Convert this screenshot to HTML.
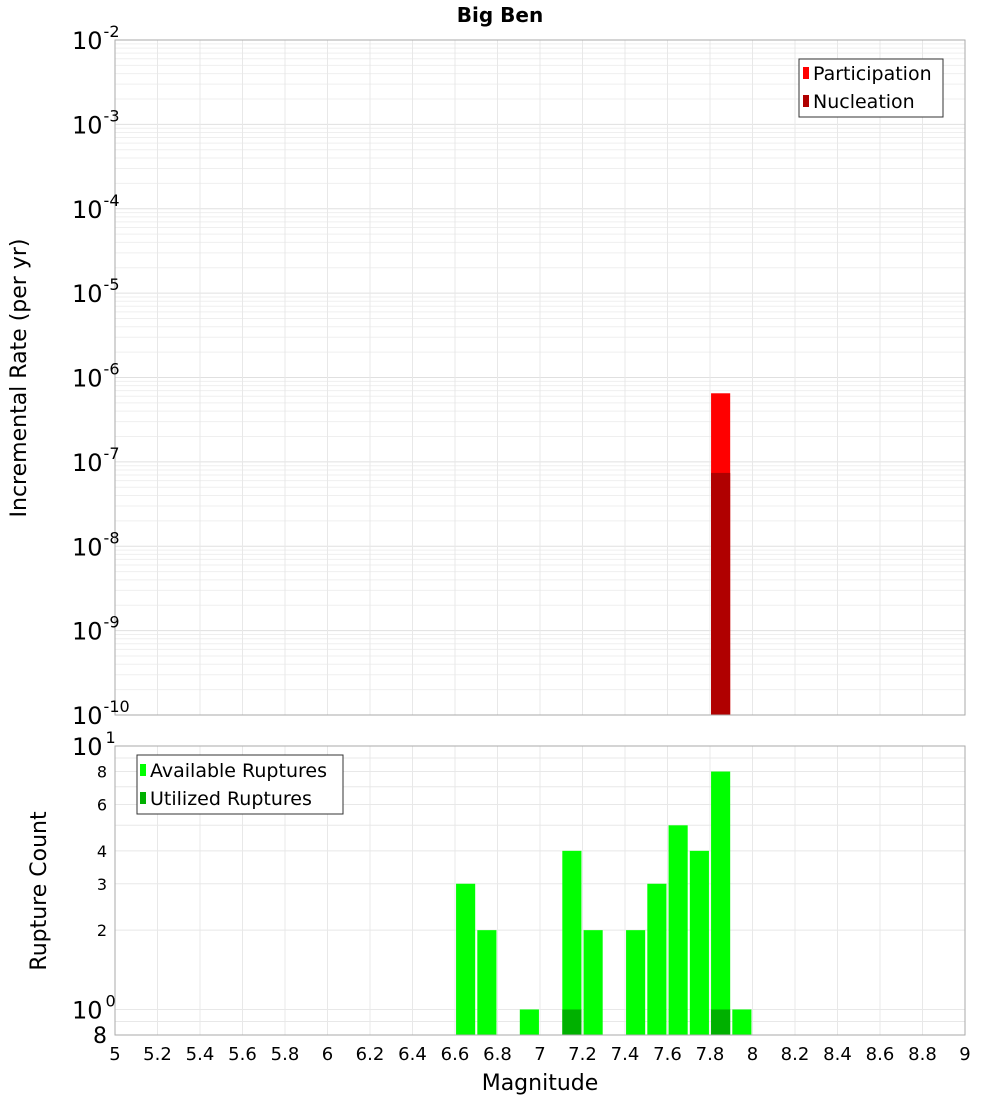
<!DOCTYPE html>
<html><head><meta charset="utf-8"><style>
body{margin:0;background:#fff;font-family:"DejaVu Sans","Liberation Sans",sans-serif}
svg text{font-family:"DejaVu Sans","Liberation Sans",sans-serif}
</style></head><body>
<svg id="c" width="1000" height="1100" xmlns="http://www.w3.org/2000/svg">
<text x="500" y="22" text-anchor="middle" font-size="20" font-weight="bold">Big Ben</text>
<g id="topg"></g>
<g id="botg"></g>
<text transform="translate(26,378) rotate(-90)" text-anchor="middle" font-size="22">Incremental Rate (per yr)</text>
<text transform="translate(46,891) rotate(-90)" text-anchor="middle" font-size="22">Rupture Count</text>
<text x="540" y="1090" text-anchor="middle" font-size="22">Magnitude</text>
<g>
<rect x="799" y="59" width="144" height="58" fill="#fff" stroke="#333"/>
<rect x="803" y="67" width="6" height="12" fill="#ff0000"/>
<text x="813" y="80" font-size="19">Participation</text>
<rect x="803" y="95" width="6" height="12" fill="#b00000"/>
<text x="813" y="108" font-size="19">Nucleation</text>
</g>
<g>
<rect x="137" y="755" width="206" height="59" fill="#fff" stroke="#333"/>
<rect x="140" y="764" width="6" height="12" fill="#00ff00"/>
<text x="150" y="777" font-size="19">Available Ruptures</text>
<rect x="140" y="792" width="6" height="12" fill="#00b000"/>
<text x="150" y="805" font-size="19">Utilized Ruptures</text>
</g>
</svg>
<script>
const xTicks=[5,5.2,5.4,5.6,5.8,6,6.2,6.4,6.6,6.8,7,7.2,7.4,7.6,7.8,8,8.2,8.4,8.6,8.8,9];
const rateMags=[7.85];
const participation=[6.5e-7];
const nucleation=[7.4e-8];
const countMags=[6.65,6.75,6.95,7.15,7.25,7.45,7.55,7.65,7.75,7.85,7.95];
const available=[3,2,1,4,2,2,3,5,4,8,1];
const utilized=[0,0,0,1,0,0,0,0,0,1,0];
const countTickVals=[10,8,6,4,3,2,1,0.8];
const countTickLabels=["10|1","8","6","4","3","2","10|0","8"];

const NS="http://www.w3.org/2000/svg";
const X0=115,X1=965;
const xs=m=>X0+(m-5)/4*(X1-X0);
const T0=40,T1=715;
const yT=v=>T1-(Math.log10(v)+10)/8*(T1-T0);
const B0=746,B1=1035,bl=Math.log10(0.8);
const yB=v=>B1-(Math.log10(v)-bl)/(1-bl)*(B1-B0);
function el(p,t,a,txt){const e=document.createElementNS(NS,t);for(const k in a)e.setAttribute(k,a[k]);if(txt!=null)e.textContent=txt;p.appendChild(e);return e;}
const topG=document.getElementById('topg'),botG=document.getElementById('botg'),svgEl=document.getElementById('c');
for(let d=-10;d<-2;d++)for(let k=1;k<10;k++){const y=yT(k*Math.pow(10,d));const l=el(topG,'line',{x1:X0,x2:X1,y1:y,y2:y,stroke:k==1?'#e0e0e0':'#efefef'});

}
xTicks.forEach(t=>{const x=xs(t);const l=el(topG,'line',{x1:x,x2:x,y1:T0,y2:T1,stroke:'#e8e8e8'});


const l2=el(botG,'line',{x1:x,x2:x,y1:B0,y2:B1,stroke:'#e8e8e8'});


const tx=el(svgEl,'text',{x:x,y:1060,'text-anchor':'middle','font-size':18},String(t));

});
[0.9,1,2,3,4,5,6,7,8,9].forEach(v=>{const y=yB(v);const l=el(botG,'line',{x1:X0,x2:X1,y1:y,y2:y,stroke:'#e8e8e8'});

});
rateMags.forEach((m,i)=>{const x=xs(m-0.045),w=xs(m+0.045)-x;
const b=el(topG,'rect',{x:x,y:yT(participation[i]),width:w,height:T1-yT(participation[i]),fill:'#ff0000'});


const n=el(topG,'rect',{x:x,y:yT(nucleation[i]),width:w,height:T1-yT(nucleation[i]),fill:'#b00000'});

});
countMags.forEach((m,i)=>{const x=xs(m-0.045),w=xs(m+0.045)-x;
const b=el(botG,'rect',{x:x,y:yB(available[i]),width:w,height:B1-yB(available[i]),fill:'#00ff00'});


if(utilized[i]>0){const u=el(botG,'rect',{x:x,y:yB(utilized[i]),width:w,height:B1-yB(utilized[i]),fill:'#00b000'});

}});
const f1=el(topG,'rect',{x:X0,y:T0,width:X1-X0,height:T1-T0,fill:'none',stroke:'#aaa'});


const f2=el(botG,'rect',{x:X0,y:B0,width:X1-X0,height:B1-B0,fill:'none',stroke:'#aaa'});


for(let d=-10;d<=-2;d++){const y=yT(Math.pow(10,d));const t=el(svgEl,'text',{x:72,y:y+9,'font-size':24});


t.appendChild(document.createTextNode('10'));el(t,'tspan',{dx:1,dy:-12,'font-size':16},String(d));}
countTickVals.forEach((v,i)=>{const y=yB(v);const lab=countTickLabels[i];let t;
if(lab.includes('|')){const [b,e]=lab.split('|');t=el(svgEl,'text',{x:72,y:y+9,'font-size':24},b);el(t,'tspan',{dx:3,dy:-12,'font-size':16},e);}
else t=el(svgEl,'text',{x:107,y:y+(v<1?8:6),'text-anchor':'end','font-size':v<1?22:16},lab);

});
</script>
</body></html>
